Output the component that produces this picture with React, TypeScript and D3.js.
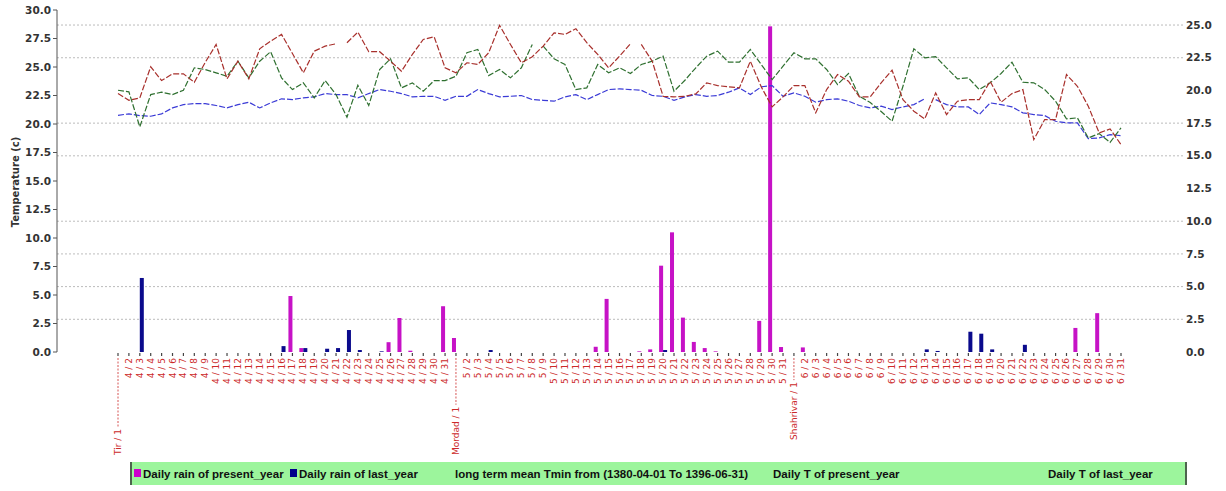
import React, { useLayoutEffect, useRef, useState } from "react";
import * as d3 from "d3";

// ---------- data ----------
const monthNames = ["Tir", "Mordad", "Shahrivar"];
const monthNumbers = [4, 5, 6];
const categories: string[] = [];
monthNumbers.forEach((m, mi) => {
  for (let d = 1; d <= 31; d++) categories.push(d === 1 ? `${monthNames[mi]} / 1` : `${m} / ${d}`);
});

const rainPresent = [
  0, 0, 0, 0, 0, 0, 0, 0, 0, 0, 0, 0, 0, 0, 0, 0, 4.28, 0.3, 0, 0, 0, 0, 0, 0, 0, 0.75, 2.6, 0.1, 0, 0, 3.5,
  1.07, 0, 0, 0, 0, 0, 0, 0, 0, 0, 0, 0, 0, 0.4, 4.06, 0, 0, 0.05, 0.2, 6.6, 9.15, 2.63, 0.77, 0.3, 0.05, 0, 0, 0, 2.38, 24.9, 0.38,
  0, 0.35, 0, 0, 0, 0, 0, 0, 0, 0, 0, 0, 0, 0, 0, 0, 0, 0, 0, 0, 0, 0, 0, 0, 0, 0, 1.84, 0, 2.97, 0, 0,
];
const rainLast = [
  0, 0, 5.66, 0, 0, 0, 0, 0, 0, 0, 0, 0, 0, 0, 0, 0.45, 0, 0.3, 0, 0.25, 0.3, 1.68, 0.15, 0, 0.05, 0, 0, 0, 0, 0, 0,
  0, 0, 0, 0.15, 0, 0, 0, 0, 0, 0, 0, 0, 0, 0, 0, 0, 0, 0, 0, 0.15, 0, 0, 0, 0, 0, 0, 0, 0, 0, 0, 0,
  0, 0, 0, 0, 0, 0, 0, 0, 0, 0, 0, 0, 0.2, 0.08, 0, 0, 1.55, 1.4, 0.2, 0, 0, 0.55, 0, 0, 0, 0, 0, 0, 0, 0, 0,
];
const tPresent = [
  22.67, 22.08, 22.29, 25.02, 23.81, 24.4, 24.4, 23.66, 25.4, 26.98, 23.96, 25.51, 23.96, 26.6, 27.27, 27.86, 26.19, 24.49, 26.39, 26.83, 27.04, 27.13, 28.06, 26.34, 26.34, 25.51, 24.63, 26.1, 27.42, 27.65, 24.93,
  24.49, 25.37, 25.22, 26.25, 28.65, 26.98, 25.37, 25.9, 26.83, 28.0, 27.86, 28.36, 27.13, 26.1, 24.93, 25.95, 27.04, 26.98, 25.51, 22.43, 22.38, 22.43, 22.64, 23.61, 23.37, 23.26, 23.17, 25.51, 23.26, 21.5, 22.38,
  23.37, 23.37, 20.98, 23.02, 24.34, 23.75, 22.38, 22.38, 23.61, 24.72, 22.14, 21.12, 20.45, 22.73, 20.83, 22.0, 22.14, 22.14, 23.75, 21.91, 22.67, 23.02, 18.63, 20.39, 20.39, 24.34, 23.31, 21.56, 19.22, 19.57, 18.19,
];
const tLast = [
  22.96, 22.82, 19.75, 22.58, 22.79, 22.58, 22.96, 24.93, 24.78, 24.49, 24.19, 25.51, 24.05, 25.51, 26.34, 24.05, 23.02, 23.61, 22.29, 23.81, 22.58, 20.59, 23.4, 21.62, 24.78, 25.72, 23.17, 23.61, 22.87, 23.81, 23.81,
  24.19, 26.25, 26.54, 24.25, 24.78, 24.05, 24.93, 26.98, 26.83, 25.72, 25.22, 23.02, 23.17, 25.22, 24.49, 24.93, 24.43, 25.22, 25.51, 25.95, 22.87, 23.84, 24.93, 25.95, 26.39, 25.42, 25.42, 26.54, 25.22, 23.9, 25.07,
  26.25, 25.72, 25.72, 24.78, 23.46, 24.43, 22.43, 21.88, 21.09, 20.24, 23.31, 26.6, 25.81, 25.9, 24.93, 23.96, 24.05, 23.02, 23.61, 24.43, 25.42, 23.66, 23.61, 23.02, 22.0, 20.45, 20.54, 18.78, 19.16, 18.39, 19.66,
];
const tMean = [
  20.76, 20.89, 20.74, 20.68, 20.89, 21.41, 21.7, 21.79, 21.79, 21.62, 21.41, 21.7, 21.91, 21.41, 21.85, 22.21, 22.14, 22.29, 22.38, 22.67, 22.58, 22.58, 22.29, 22.67, 23.02, 22.87, 22.67, 22.38, 22.43, 22.43, 22.08,
  22.43, 22.43, 23.02, 22.67, 22.38, 22.43, 22.5, 22.14, 22.08, 22.0, 22.38, 22.58, 22.14, 22.58, 23.02, 23.08, 23.02, 22.96, 22.5, 22.43, 22.08, 22.38, 22.58, 22.43, 22.5, 22.79, 23.17, 22.58, 23.26, 23.37, 22.43,
  22.73, 22.43, 21.91, 22.14, 22.21, 22.0, 21.62, 21.41, 21.56, 21.27, 21.5, 21.7, 22.21, 22.14, 21.7, 21.5, 21.5, 20.83, 21.85, 21.7, 21.5, 20.98, 20.83, 20.74, 20.24, 20.1, 20.1, 18.72, 18.78, 19.07, 18.98,
];
// segments (after index i) that are not drawn in the original
const gapsPresent = [20, 47];
const gapsLast = [38];
const gapsMean = [74];

const leftTicks = d3.range(0, 30.01, 2.5);
const rightTicks = d3.range(0, 25.01, 2.5);
const gridValues = [2.5, 5, 7.5, 10, 15, 17.5, 22.5, 25];

const legendItems = [
  { label: "Daily rain of present_year", swatch: "#cc00cc" },
  { label: "Daily rain of last_year", swatch: "#00008b" },
  { label: "long term mean Tmin from (1380-04-01 To 1396-06-31)", swatch: null },
  { label: "Daily T of present_year", swatch: null },
  { label: "Daily T of last_year", swatch: null },
];

// ---------- layout ----------
const W = 1226;
const H = 491;
const plotLeft = 57;
const plotTop = 10;
const plotBottom = 352;

function runs(values: number[], gaps: number[]) {
  const out: number[][] = [];
  let cur: number[] = [];
  values.forEach((_, i) => {
    cur.push(i);
    if (gaps.includes(i)) {
      out.push(cur);
      cur = [];
    }
  });
  if (cur.length) out.push(cur);
  return out;
}

export default function App() {
  const x = d3.scalePoint<string>().domain(categories).range([118, 1121]);
  const yL = d3.scaleLinear().domain([0, 30]).range([plotBottom, plotTop]);
  const yR = d3.scaleLinear().domain([0, 26.15]).range([plotBottom, plotTop]);
  const barW = 4;

  const monthRefs = useRef<(SVGTextElement | null)[]>([]);
  const [lens, setLens] = useState<number[]>([0, 0, 0]);
  useLayoutEffect(() => {
    setLens(monthRefs.current.map((t) => (t ? t.getComputedTextLength() : 0)));
  }, []);

  const lineGen = (vals: number[]) =>
    d3
      .line<number>()
      .x((i) => x(categories[i]) as number)
      .y((i) => yL(vals[i]));

  const series = [
    { vals: tMean, gaps: gapsMean, color: "#3b3bd6" },
    { vals: tLast, gaps: gapsLast, color: "#2f7030" },
    { vals: tPresent, gaps: gapsPresent, color: "#a8302c" },
  ];

  const monthBottoms = [455, 455, 440];
  const labelFont = "'DejaVu Sans', sans-serif";

  const legendX = [134, 290, 455, 773, 1048];

  return (
    <svg
      width={W}
      height={H}
      style={{ position: "absolute", left: 0, top: 0, background: "#fff", display: "block" }}
    >
      {/* gridlines */}
      {gridValues.map((v) => (
        <line
          key={v}
          x1={plotLeft}
          x2={1183}
          y1={yR(v)}
          y2={yR(v)}
          stroke="#b4b4b4"
          strokeWidth={0.9}
          strokeDasharray="2,2"
        />
      ))}

      {/* left axis */}
      <line x1={plotLeft} x2={plotLeft} y1={plotTop} y2={plotBottom} stroke="#555" strokeWidth={1} />
      {leftTicks.map((t) => (
        <g key={t}>
          <line x1={plotLeft - 4} x2={plotLeft} y1={yL(t)} y2={yL(t)} stroke="#555" />
          <text
            x={plotLeft - 6}
            y={yL(t)}
            dy="0.35em"
            textAnchor="end"
            fontSize={10.5}
            fontWeight="bold"
            fontFamily={labelFont}
            fill="#333"
          >
            {t.toFixed(1)}
          </text>
        </g>
      ))}
      <text
        transform={`translate(15,182) rotate(-90)`}
        textAnchor="middle"
        fontSize={10}
        fontWeight="bold"
        fontFamily={labelFont}
        fill="#333"
        dy="0.35em"
      >
        Temperature (c)
      </text>

      {/* right axis labels */}
      {rightTicks.map((t) => (
        <text
          key={t}
          x={1186}
          y={yR(t)}
          dy="0.35em"
          fontSize={10.5}
          fontWeight="bold"
          fontFamily={labelFont}
          fill="#333"
        >
          {t.toFixed(1)}
        </text>
      ))}

      {/* bars */}
      {categories.map((c, i) => (
        <g key={c}>
          {rainPresent[i] > 0 && (
            <rect
              x={(x(c) as number) - barW}
              y={yR(rainPresent[i])}
              width={barW}
              height={plotBottom - yR(rainPresent[i])}
              fill="#c612c6"
            />
          )}
          {rainLast[i] > 0 && (
            <rect
              x={x(c) as number}
              y={yR(rainLast[i])}
              width={barW}
              height={plotBottom - yR(rainLast[i])}
              fill="#0a0a8c"
            />
          )}
        </g>
      ))}

      {/* lines */}
      {series.map((s, si) =>
        runs(s.vals, s.gaps).map((r, ri) => (
          <path
            key={`${si}-${ri}`}
            d={lineGen(s.vals)(r) || ""}
            fill="none"
            stroke={s.color}
            strokeWidth={1.2}
            strokeDasharray="6,2"
          />
        ))
      )}

      {/* x ticks and labels */}
      {categories.map((c, i) => {
        const cx = x(c) as number;
        const isMonth = i % 31 === 0;
        const mi = Math.floor(i / 31);
        return (
          <g key={c}>
            <line x1={cx} x2={cx} y1={353} y2={356} stroke="#444" strokeWidth={1.2} />
            {!isMonth && (
              <text
                transform={`translate(${cx + 3},358) rotate(-90)`}
                textAnchor="end"
                fontSize={9}
                fontFamily={labelFont}
                fill="#cc2a2a"
              >
                {c}
              </text>
            )}
            {isMonth && (
              <>
                <text
                  ref={(el) => {
                    monthRefs.current[mi] = el;
                  }}
                  transform={`translate(${cx + 3},${monthBottoms[mi]}) rotate(-90)`}
                  textAnchor="start"
                  fontSize={9}
                  fontFamily={labelFont}
                  fill="#cc2a2a"
                >
                  {c}
                </text>
                <line
                  x1={cx}
                  x2={cx}
                  y1={358}
                  y2={monthBottoms[mi] - lens[mi] - 2}
                  stroke="#cc2a2a"
                  strokeWidth={0.8}
                  strokeDasharray="2,1.5"
                />
              </>
            )}
          </g>
        );
      })}

      {/* legend */}
      <rect x={130} y={462} width={1057} height={23} fill="#9cf59c" />
      <line x1={131} x2={131} y1={462} y2={485} stroke="#333" strokeWidth={1.5} />
      <line x1={1186} x2={1186} y1={462} y2={485} stroke="#333" strokeWidth={1.5} />
      {legendItems.map((it, i) => (
        <g key={it.label}>
          {it.swatch && <rect x={legendX[i]} y={469} width={7} height={8} fill={it.swatch} />}
          <text
            x={it.swatch ? legendX[i] + 9 : legendX[i]}
            y={478}
            fontSize={11.5}
            fontWeight="bold"
            fontFamily="'Liberation Sans', Arial, sans-serif"
            fill="#111"
          >
            {it.label}
          </text>
        </g>
      ))}
    </svg>
  );
}
